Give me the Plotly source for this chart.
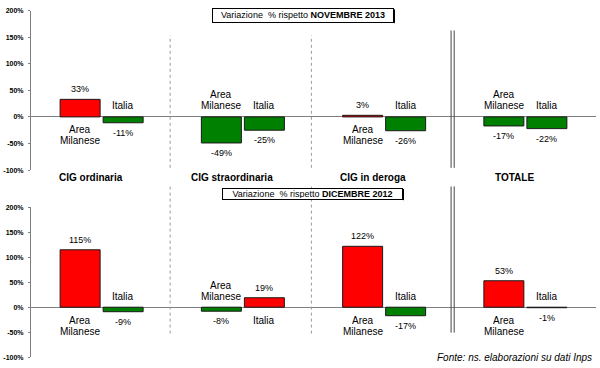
import plotly.graph_objects as go

# ---- data ----
categories = ["CIG ordinaria", "CIG straordinaria", "CIG in deroga", "TOTALE"]
series_names = ["Area Milanese", "Italia"]
nov_area_milanese = [33, -49, 3, -17]
nov_italia = [-11, -25, -26, -22]
dic_area_milanese = [115, -8, 122, 53]
dic_italia = [-9, 19, -17, -1]
y_ticks = [-100, -50, 0, 50, 100, 150, 200]
y_tick_labels = ["-100%", "-50%", "0%", "50%", "100%", "150%", "200%"]
panel_titles = ["Variazione&nbsp; % rispetto <b>NOVEMBRE 2013</b>",
                "Variazione&nbsp; % rispetto <b>DICEMBRE 2012</b>"]
source_note = "<i>Fonte: ns. elaborazioni su dati Inps</i>"

RED = "#FF0000"
GREEN = "#008000"
FONT = "Liberation Sans, Arial, sans-serif"
W, H = 600, 368


def py(px):
    return 1 - px / H


fig = go.Figure()
panels = [
    dict(xa="x", ya="y", data=[nov_area_milanese, nov_italia]),
    dict(xa="x2", ya="y2", data=[dic_area_milanese, dic_italia]),
]
annotations = []
for p in panels:
    for name, vals, sh in zip(series_names, p["data"], [-21.5, 21.5]):
        fig.add_trace(go.Bar(
            x=categories, y=vals, name=name, xaxis=p["xa"], yaxis=p["ya"],
            marker=dict(color=[RED if v >= 0 else GREEN for v in vals],
                        line=dict(color="#1a1a1a", width=1)),
            showlegend=False, hoverinfo="skip"))
        words = name.split(" ")
        for c, v in zip(categories, vals):
            pos = v >= 0
            annotations.append(dict(
                x=c, y=v, xref=p["xa"], yref=p["ya"], text=f"{v}%", showarrow=False,
                xshift=sh, yanchor="middle", yshift=10 if pos else -10,
                font=dict(size=9, color="#000")))
            n = len(words)
            for i, w in enumerate(words):
                if pos:
                    ys = -(13 + 11 * i)
                else:
                    ys = 11 + 11 * (n - 1 - i)
                annotations.append(dict(
                    x=c, y=0, xref=p["xa"], yref=p["ya"], text=w,
                    showarrow=False, xshift=sh, yanchor="middle", yshift=ys,
                    font=dict(size=10, color="#000")))

# category labels (between the two panels)
for c in categories:
    annotations.append(dict(x=c, y=py(177), xref="x", yref="paper", text=f"<b>{c}</b>",
                            showarrow=False, xshift=-11, yanchor="middle",
                            font=dict(size=10, color="#000")))

shapes = []
# panel title boxes
for t, (x0, x1, y0, y1) in zip(panel_titles, [(212, 394, 4.5, 19), (222, 403, 187.5, 199.5)]):
    annotations.append(dict(x=(x0 + x1) / 2 / W, y=py((y0 + y1) / 2), xref="paper", yref="paper",
                            text=t, showarrow=False, xanchor="center", yanchor="middle",
                            bordercolor="#000", borderwidth=1, borderpad=1, bgcolor="#fff",
                            width=x1 - x0 - 4, height=y1 - y0 - 4,
                            font=dict(size=9, color="#000")))
    shapes.append(dict(type="line", xref="paper", yref="paper", x0=(x1 + 0.5) / W, x1=(x1 + 0.5) / W,
                       y0=py(y1 + 0.5), y1=py(y0 + 1), line=dict(color="#000", width=1)))

annotations.append(dict(x=594 / W, y=py(360), xref="paper", yref="paper", text=source_note,
                        showarrow=False, xanchor="right", yanchor="middle",
                        font=dict(size=10, color="#000")))

# separators
for (y0, y1) in [(32, 167), (186, 336)]:
    for xs in [0.485, 1.485]:
        shapes.append(dict(type="line", xref="x", yref="paper", x0=xs, x1=xs,
                           y0=py(y1), y1=py(y0), line=dict(color="#9a9a9a", width=1, dash="dot")))
for (y0, y1) in [(27, 167), (186, 335)]:
    for xs in [2.474, 2.496]:
        shapes.append(dict(type="line", xref="x", yref="paper", x0=xs, x1=xs,
                           y0=py(y1), y1=py(y0), line=dict(color="#444", width=1)))

xdom = [31 / W, 596 / W]
common_x = dict(type="category", range=[-0.5, 3.5], domain=xdom, showticklabels=False,
                showgrid=False, showline=False, ticks="", zeroline=False, fixedrange=True)
common_y = dict(range=[-100, 200], tickvals=y_ticks, ticktext=y_tick_labels, showgrid=False,
                showline=True, linecolor="#808080", linewidth=1, ticks="outside", ticklen=2,
                tickcolor="#808080", zeroline=True, zerolinecolor="#808080", zerolinewidth=1,
                tickfont=dict(size=7, color="#000", weight="bold"), ticklabelstandoff=3,
                fixedrange=True)

fig.update_layout(
    width=W, height=H, margin=dict(l=0, r=0, t=0, b=0),
    paper_bgcolor="#fff", plot_bgcolor="#fff",
    font=dict(family=FONT, color="#000"),
    barmode="group", bargap=0.391, bargroupgap=0.07,
    xaxis=dict(**common_x, anchor="y"),
    xaxis2=dict(**common_x, anchor="y2"),
    yaxis=dict(**common_y, domain=[py(169.3), py(6.7)], anchor="x"),
    yaxis2=dict(**common_y, domain=[py(360), py(207.3)], anchor="x2"),
    annotations=annotations, shapes=shapes,
)

fig.write_html("out.html", config={"displayModeBar": False},
               post_script="document.body.style.margin='0';document.body.style.overflow='hidden';")
